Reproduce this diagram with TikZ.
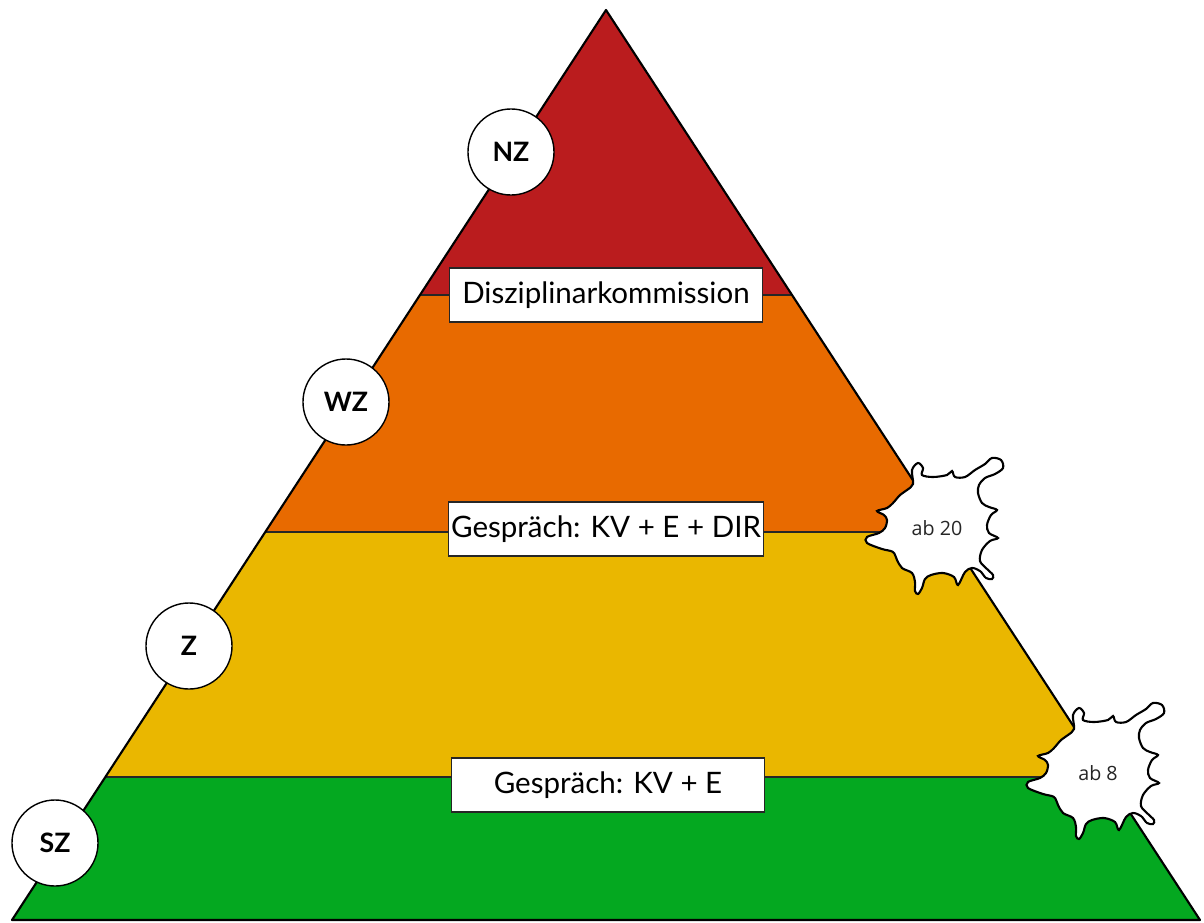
\documentclass[tikz,border=0pt]{standalone}
\usepackage{fontspec}
\setmainfont{Lato}
\newfontfamily\splatfont{Open Sans}
\usetikzlibrary{calc}
\definecolor{lvlRed}{RGB}{186,28,30}
\definecolor{lvlOrange}{RGB}{232,106,0}
\definecolor{lvlYellow}{RGB}{234,183,0}
\definecolor{lvlGreen}{RGB}{4,168,32}

\begin{document}
\begin{tikzpicture}[
  x=0.025cm, y=-0.025cm,
  lvl/.style={circle, draw=black, fill=white, line width=1pt,
              minimum size=2.15cm, inner sep=0pt,
              font=\fontsize{19}{21}\selectfont\bfseries},
  stage/.style={rectangle, draw=black!85, fill=white, line width=1pt,
                minimum width=7.825cm, minimum height=1.35cm,
                inner sep=2pt, font=\fontsize{21}{23}\selectfont},
  count/.style={font=\splatfont\fontsize{14}{16}\selectfont, text=black!85},
  splat/.pic={
    \draw[fill=white, line width=1.5pt]
      plot[smooth cycle, tension=0.55] coordinates {
        (-24,-44) (-25,-58) (-19,-65) (-14,-60) (-15,-53)
        (-4,-51) (10,-53) (15,-57) (18,-51) (28,-51)
        (38,-58) (48,-64) (55,-70) (64,-68) (66,-60) (58,-54)
        (48,-50) (42,-43) (41,-35) (45,-25) (52,-21) (60,-18)
        (54,-13) (50,-3) (52,5) (61,10) (53,13) (45,22) (43,33)
        (50,41) (56,47) (55,51) (49,50) (43,43) (35,40) (28,44)
        (21,57) (17,49) (6,45) (-6,47) (-12,51)
        (-15,60) (-19,66) (-22,63) (-22,54) (-25,45) (-35,40)
        (-40,32) (-44,24) (-55,21) (-70,15) (-70,9) (-58,5)
        (-52,0) (-50,-8) (-53,-13) (-60,-17) (-50,-20) (-44,-25)
        (-37,-33) (-30,-38)};
  }
]
  \useasboundingbox (0,0) rectangle (1204,922);

  %% pyramid outline points
  \coordinate (apex) at (606,10);
  \coordinate (bl) at (12,920);
  \coordinate (br) at (1200,920);
  \coordinate (l1) at ($(apex)!0.3132!(bl)$);
  \coordinate (r1) at ($(apex)!0.3132!(br)$);
  \coordinate (l2) at ($(apex)!0.5736!(bl)$);
  \coordinate (r2) at ($(apex)!0.5736!(br)$);
  \coordinate (l3) at ($(apex)!0.8429!(bl)$);
  \coordinate (r3) at ($(apex)!0.8429!(br)$);

  %% bands
  \fill[lvlRed] (apex) -- (r1) -- (l1) -- cycle;
  \fill[lvlOrange] (l1) -- (r1) -- (r2) -- (l2) -- cycle;
  \fill[lvlYellow] (l2) -- (r2) -- (r3) -- (l3) -- cycle;
  \fill[lvlGreen] (l3) -- (r3) -- (br) -- (bl) -- cycle;
  \foreach \a/\b in {l1/r1,l2/r2,l3/r3}
    \draw[black!85, line width=1pt] (\a) -- (\b);
  \draw[line width=1.5pt, line join=round] (apex) -- (br) -- (bl) -- cycle;

  %% levels
  \node[lvl] (nz) at (511,152) {NZ};
  \node[lvl] (wz) at (346,402) {WZ};
  \node[lvl] (z)  at (189,646) {Z};
  \node[lvl] (sz) at (55,843)  {SZ};

  %% measures
  \node[stage] (dk)  at (606,295) {Disziplinarkommission};
  \node[stage] (dir) at (606,529) {Gespräch: KV + E + DIR};
  \node[stage] (kve) at (608,785) {Gespräch: KV + E};

  %% thresholds
  \pic at (937,528) {splat};
  \node[count] (ab20) at (937,528) {ab 20};
  \pic at (1098,773) {splat};
  \node[count] (ab8) at (1098,773) {ab 8};
\end{tikzpicture}
\end{document}
